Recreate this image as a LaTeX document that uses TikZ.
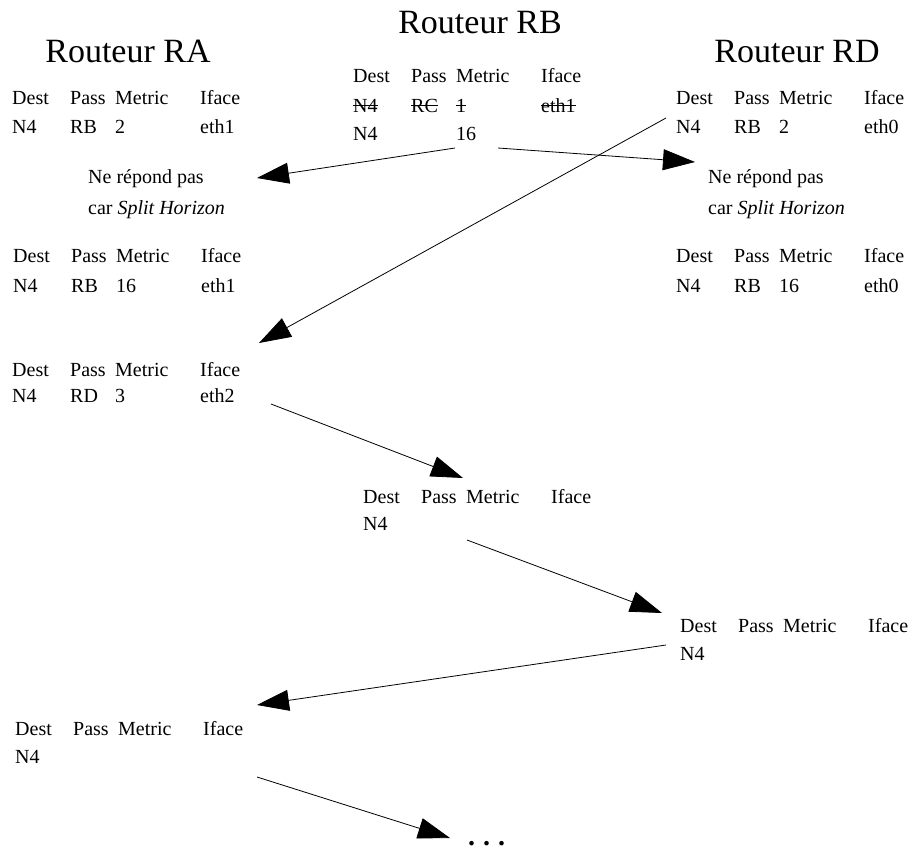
\documentclass[tikz,border=0pt]{standalone}
\usepackage{fontspec}
\setmainfont{Liberation Serif}
\usetikzlibrary{arrows.meta}
\newcommand{\rrow}[4]{\makebox[58pt][l]{#1}\makebox[45pt][l]{#2}\makebox[85pt][l]{#3}#4}
\newlength{\strklen}
\newcommand{\strk}[1]{\settowidth{\strklen}{#1}\rlap{#1}\rule[0.3em]{\strklen}{0.8pt}}

\begin{document}
\begin{tikzpicture}[x=1pt,y=-1pt,
    txt/.style={anchor=base west,inner sep=0pt,font=\fontsize{20}{24}\selectfont},
    title/.style={anchor=base,inner sep=0pt,font=\fontsize{34}{40}\selectfont},
    msg/.style={-{Triangle[length=32pt,width=21pt]},line width=0.8pt}]
            \useasboundingbox (0,0) rectangle (911,852);

            \node[title] (ta) at (128,62) {Routeur RA};
            \node[title] (tb) at (480,33) {Routeur RB};
            \node[title] (td) at (797,62) {Routeur RD};

            % tables of RB
            \node[txt] (b0) at (353,82) {\rrow{Dest}{Pass}{Metric}{Iface}};
            \node[txt] (b1) at (353,112) {\rrow{\strk{N4}}{\strk{RC}}{\strk{1}}{\strk{eth1}}};
            \node[txt] (b2) at (353,140) {\rrow{N4}{}{16}{}};

            % tables of RA
            \node[txt] (a0) at (12,104) {\rrow{Dest}{Pass}{Metric}{Iface}};
            \node[txt] (a1) at (12,133) {\rrow{N4}{RB}{2}{eth1}};
            \node[txt] (na1) at (88,183) {Ne répond pas};
            \node[txt] (na2) at (88,214) {car \textit{Split Horizon}};
            \node[txt] (a2) at (13,262) {\rrow{Dest}{Pass}{Metric}{Iface}};
            \node[txt] (a3) at (13,292) {\rrow{N4}{RB}{16}{eth1}};
            \node[txt] (a4) at (12,376) {\rrow{Dest}{Pass}{Metric}{Iface}};
            \node[txt] (a5) at (12,402) {\rrow{N4}{RD}{3}{eth2}};
            \node[txt] (a6) at (15,735) {\rrow{Dest}{Pass}{Metric}{Iface}};
            \node[txt] (a7) at (15,763) {N4};

            % tables of RD
            \node[txt] (d0) at (676,104) {\rrow{Dest}{Pass}{Metric}{Iface}};
            \node[txt] (d1) at (676,133) {\rrow{N4}{RB}{2}{eth0}};
            \node[txt] (nd1) at (708,183) {Ne répond pas};
            \node[txt] (nd2) at (708,214) {car \textit{Split Horizon}};
            \node[txt] (d2) at (676,262) {\rrow{Dest}{Pass}{Metric}{Iface}};
            \node[txt] (d3) at (676,292) {\rrow{N4}{RB}{16}{eth0}};
            \node[txt] (d4) at (680,632) {\rrow{Dest}{Pass}{Metric}{Iface}};
            \node[txt] (d5) at (680,660) {N4};

            % table in transit
            \node[txt] (m0) at (363,503) {\rrow{Dest}{Pass}{Metric}{Iface}};
            \node[txt] (m1) at (363,530) {N4};
            \node[txt,font=\fontsize{28}{30}\selectfont] (dots) at (468,845)
              {\textbf{.\hspace{8pt}.\hspace{8pt}.}};

            % ends of the messages
            \coordinate (s1) at (455,148);  \coordinate (e1) at (257,178);
            \coordinate (s2) at (498,148);  \coordinate (e2) at (695,162);
            \coordinate (s3) at (666,118);  \coordinate (e3) at (259,343);
            \coordinate (s4) at (271,404);  \coordinate (e4) at (463,478);
            \coordinate (s5) at (467,540);  \coordinate (e5) at (662,613);
            \coordinate (s6) at (666,645);  \coordinate (e6) at (257,705);
            \coordinate (s7) at (257,777);  \coordinate (e7) at (450,838);

            \draw[msg] (s1) -- (e1);
            \draw[msg] (s2) -- (e2);
            \draw[msg] (s3) -- (e3);
            \draw[msg] (s4) -- (e4);
            \draw[msg] (s5) -- (e5);
            \draw[msg] (s6) -- (e6);
            \draw[msg] (s7) -- (e7);
          \end{tikzpicture}
\end{document}
